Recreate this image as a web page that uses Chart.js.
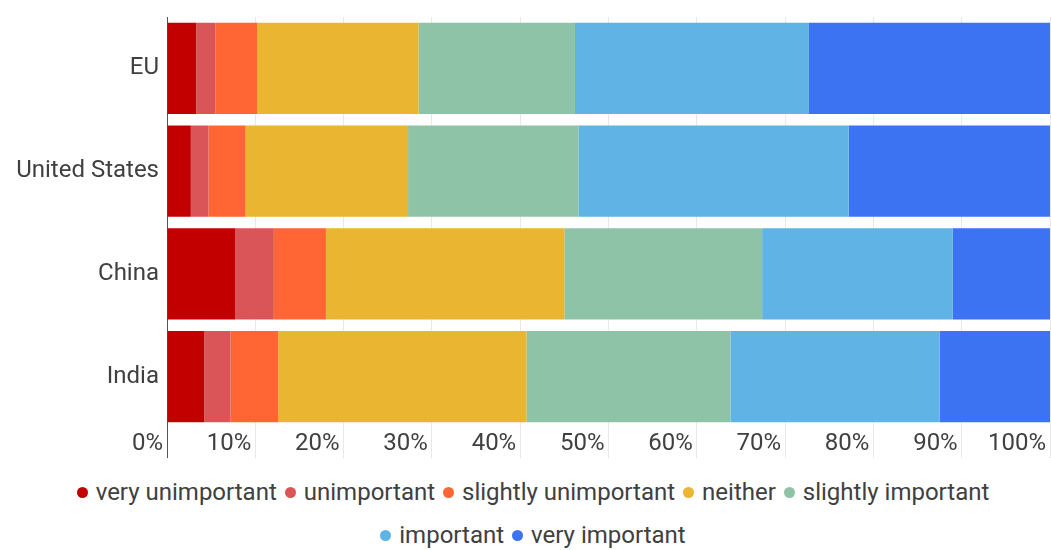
<!DOCTYPE html>
<html>
<head>
<meta charset="utf-8">
<script src="https://cdn.jsdelivr.net/npm/chart.js@4/dist/chart.umd.min.js"></script>
<style>
  html, body { margin: 0; padding: 0; background: #ffffff; }
  #wrap { width: 1051px; height: 550px; position: relative; font-family: Roboto, "Noto Sans", sans-serif; }
  #chartBox { width: 1051px; height: 460px; position: relative; }
  #legend { width: 980px; margin: 10px 0 0 43px; display: flex; flex-wrap: wrap; justify-content: center; column-gap: 8px; }
  .li { display: flex; align-items: center; height: 43px; font-size: 24px; color: #404040; white-space: nowrap; }
  .dot { width: 11px; height: 11px; border-radius: 50%; margin-right: 8px; margin-top: 2px; }
</style>
</head>
<body>
<div id="wrap">
  <div id="chartBox"><canvas id="c"></canvas></div>
  <div id="legend"></div>
</div>
<script>
const categories = ["EU", "United States", "China", "India"];
const seriesNames = ["very unimportant", "unimportant", "slightly unimportant", "neither", "slightly important", "important", "very important"];
const seriesColors = ["#c20000", "#da5558", "#ff6633", "#eab530", "#8ec3a7", "#5fb4e5", "#3b73f2"];
const veryUnimportant   = [3.3, 2.7, 7.7, 4.2];
const unimportant       = [2.2, 2.0, 4.4, 3.0];
const slightlyUnimp     = [4.7, 4.2, 5.9, 5.4];
const neither           = [18.3, 18.4, 27.0, 28.1];
const slightlyImportant = [17.7, 19.3, 22.4, 23.1];
const important         = [26.5, 30.6, 21.6, 23.7];
const veryImportant     = [27.3, 22.8, 11.0, 12.6];
const xTickValues = [0, 10, 20, 30, 40, 50, 60, 70, 80, 90, 100];

const seriesValues = [veryUnimportant, unimportant, slightlyUnimp, neither, slightlyImportant, important, veryImportant];

const datasets = seriesNames.map((name, i) => ({
  label: name,
  data: seriesValues[i],
  backgroundColor: seriesColors[i],
  borderWidth: 0,
  barPercentage: 0.89,
  categoryPercentage: 1.0
}));

Chart.defaults.font.family = "Roboto, 'Noto Sans', sans-serif";
Chart.defaults.color = "#404040";

new Chart(document.getElementById("c"), {
  type: "bar",
  data: { labels: categories, datasets: datasets },
  options: {
    indexAxis: "y",
    responsive: true,
    maintainAspectRatio: false,
    animation: false,
    layout: { padding: { top: 17, right: 1, left: 0, bottom: 0 } },
    plugins: { legend: { display: false }, tooltip: { enabled: false } },
    scales: {
      x: {
        stacked: true,
        min: 0,
        max: 100,
        afterBuildTicks: (scale) => { scale.ticks = xTickValues.map(v => ({ value: v })); },
        afterFit: (scale) => { scale.height = 32; },
        border: { display: false },
        grid: {
          color: (ctx) => ctx.index === 0 ? "#555555" : "#e8e8e8",
          lineWidth: 1,
          drawTicks: true,
          tickLength: 30
        },
        ticks: {
          align: "end",
          labelOffset: -4,
          padding: -28,
          font: { size: 24 },
          color: "#404040",
          callback: (v) => v + "%"
        }
      },
      y: {
        stacked: true,
        border: { display: false },
        grid: { display: false, drawTicks: false },
        afterFit: (scale) => { scale.width = 167; },
        ticks: { padding: 8, font: { size: 24, lineHeight: 0.4 }, color: "#404040" }
      }
    }
  }
});

const legend = document.getElementById("legend");
seriesNames.forEach((name, i) => {
  const item = document.createElement("div");
  item.className = "li";
  const dot = document.createElement("span");
  dot.className = "dot";
  dot.style.background = seriesColors[i];
  const txt = document.createElement("span");
  txt.textContent = name;
  item.appendChild(dot);
  item.appendChild(txt);
  legend.appendChild(item);
});
</script>
</body>
</html>
